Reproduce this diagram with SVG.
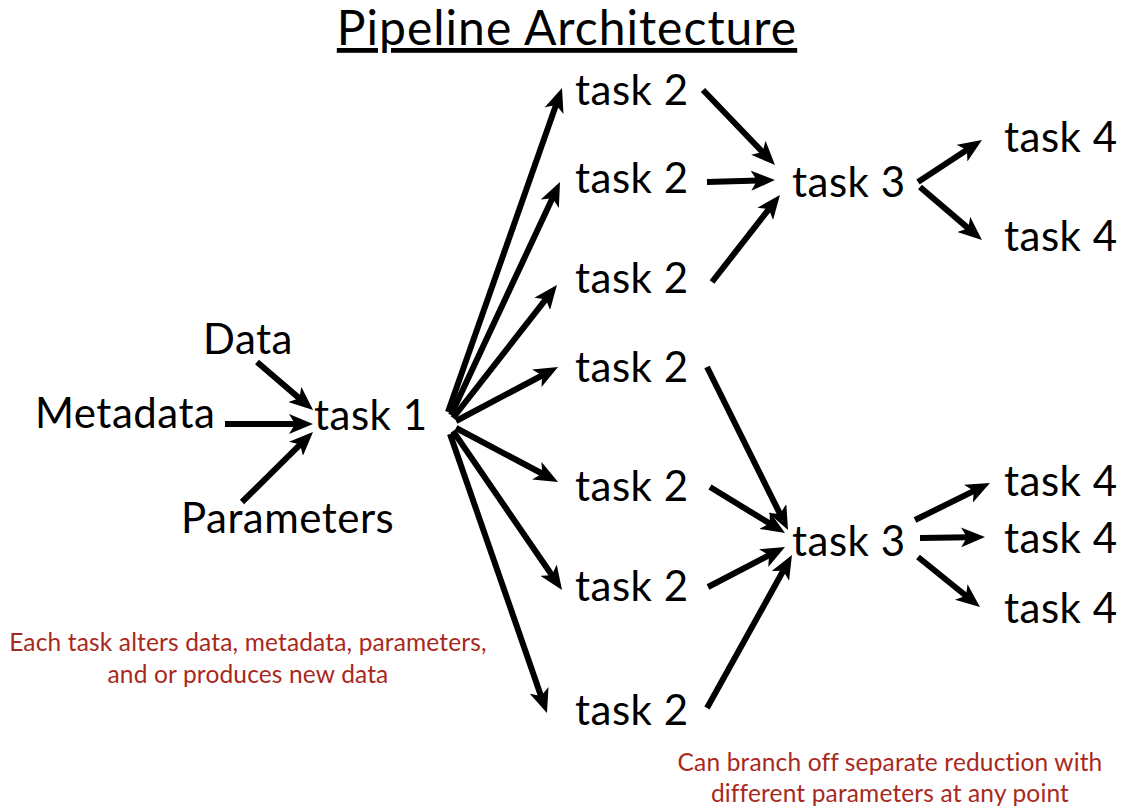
<svg xmlns="http://www.w3.org/2000/svg" width="1124" height="812" viewBox="0 0 1124 812">
<style>
.lbl{font-family:Lato,"Open Sans","DejaVu Sans",sans-serif;font-size:42px;letter-spacing:0.5px;fill:#000}
.title{font-family:Lato,"Open Sans","DejaVu Sans",sans-serif;font-size:48px;letter-spacing:1px;fill:#000;text-decoration:underline}
.note{font-family:Lato,"Open Sans","DejaVu Sans",sans-serif;font-size:24.5px;letter-spacing:0.15px;fill:#A8291C;text-anchor:middle}
.c{stroke:#000;stroke-width:6;fill:none;marker-end:url(#ah)}
</style>
<defs>
<marker id="ah" markerUnits="userSpaceOnUse" viewBox="0 0 24 20" refX="8" refY="10" markerWidth="24" markerHeight="20" orient="auto">
<path d="M0,0 L24,10 L0,20 L6,10 Z" fill="#000"/>
</marker>
</defs>
<rect width="1124" height="812" fill="#fff"/>
<text class="title" x="567" y="45" text-anchor="middle">Pipeline Architecture</text>
<g id="data"><text class="lbl" x="203" y="354">Data</text></g>
<g id="metadata"><text class="lbl" x="35" y="428">Metadata</text></g>
<g id="parameters"><text class="lbl" x="181" y="533">Parameters</text></g>
<g id="task1"><text class="lbl" x="314" y="430">task 1</text></g>
<g id="task2a"><text class="lbl" x="575" y="105">task 2</text></g>
<g id="task2b"><text class="lbl" x="575" y="193">task 2</text></g>
<g id="task2c"><text class="lbl" x="575" y="293">task 2</text></g>
<g id="task2d"><text class="lbl" x="575" y="382">task 2</text></g>
<g id="task2e"><text class="lbl" x="575" y="501">task 2</text></g>
<g id="task2f"><text class="lbl" x="575" y="601">task 2</text></g>
<g id="task2g"><text class="lbl" x="575" y="725">task 2</text></g>
<g id="task3a"><text class="lbl" x="792" y="197">task 3</text></g>
<g id="task3b"><text class="lbl" x="792" y="556">task 3</text></g>
<g id="task4a"><text class="lbl" x="1004" y="152">task 4</text></g>
<g id="task4b"><text class="lbl" x="1004" y="251">task 4</text></g>
<g id="task4c"><text class="lbl" x="1004" y="496">task 4</text></g>
<g id="task4d"><text class="lbl" x="1004" y="553">task 4</text></g>
<g id="task4e"><text class="lbl" x="1004" y="623">task 4</text></g>
<g id="note1"><text class="note" x="248" y="651">Each task alters data, metadata, parameters,</text><text class="note" x="248" y="683">and or produces new data</text></g>
<g id="note2"><text class="note" x="890" y="771">Can branch off separate reduction with</text><text class="note" x="890" y="802">different parameters at any point</text></g>
<g id="connectors">
<line class="c" x1="257" y1="362" x2="300.9" y2="399.6"/>
<line class="c" x1="225" y1="424" x2="297" y2="424"/>
<line class="c" x1="242" y1="502" x2="301.6" y2="443.2"/>
<line class="c" x1="448" y1="412" x2="556.7" y2="103.1"/>
<line class="c" x1="451" y1="415" x2="553.2" y2="196.5"/>
<line class="c" x1="453" y1="418" x2="547.1" y2="297.6"/>
<line class="c" x1="456" y1="421" x2="543.9" y2="374.5"/>
<line class="c" x1="456" y1="428" x2="543.9" y2="474.5"/>
<line class="c" x1="453" y1="431" x2="553" y2="576.8"/>
<line class="c" x1="450" y1="434" x2="541.7" y2="697.9"/>
<line class="c" x1="703" y1="90" x2="763.9" y2="153.5"/>
<line class="c" x1="707" y1="182" x2="759" y2="180.5"/>
<line class="c" x1="712" y1="282" x2="770.1" y2="207.6"/>
<line class="c" x1="918" y1="182" x2="968.6" y2="148.8"/>
<line class="c" x1="920" y1="187" x2="969.8" y2="229.6"/>
<line class="c" x1="707" y1="367" x2="780.9" y2="515.7"/>
<line class="c" x1="710" y1="487" x2="771.4" y2="524.6"/>
<line class="c" x1="708" y1="587" x2="770.8" y2="554.4"/>
<line class="c" x1="707" y1="708" x2="784.2" y2="569"/>
<line class="c" x1="915" y1="520" x2="975.6" y2="490.1"/>
<line class="c" x1="920" y1="538" x2="969" y2="537.2"/>
<line class="c" x1="918" y1="557" x2="967.5" y2="597"/>
</g>
</svg>
